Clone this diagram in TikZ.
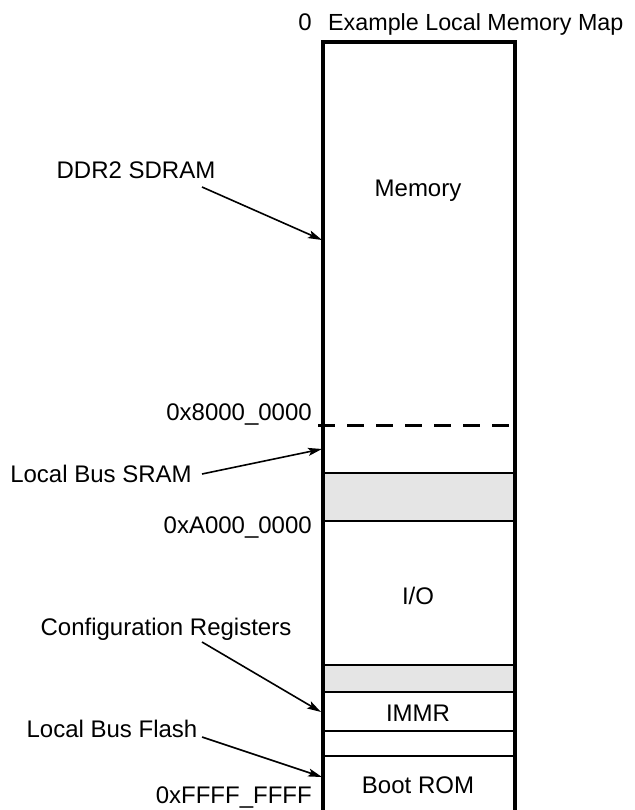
\documentclass[tikz,border=0pt]{standalone}
\usepackage{fontspec}
\setmainfont{Liberation Sans}
\usetikzlibrary{arrows.meta}
\tikzset{
  lbl/.style={inner sep=0pt, anchor=base, font=\fontsize{24}{24}\selectfont},
  ttl/.style={inner sep=0pt, anchor=base west, font=\fontsize{23.3}{23.3}\selectfont},
  sep/.style={line width=2.6pt},
  border/.style={line width=3.2pt},
  ptr/.style={line width=1.6pt, -{Stealth[length=14pt,width=8pt,inset=3pt]}},
}
\begin{document}
\begin{tikzpicture}[x=1pt,y=-1pt]
\useasboundingbox (0,0) rectangle (634,810);
\clip (0,0) rectangle (634,810);
% shaded bands
\fill[black!10] (323,473) rectangle (515,521);
\fill[black!10] (323,665) rectangle (515,692);
% separators
\draw[line width=3pt, dash pattern=on 17pt off 12pt] (318,425) -- (515,425);
\draw[sep] (323,473) -- (515,473);
\draw[sep] (323,521) -- (515,521);
\draw[sep] (323,665) -- (515,665);
\draw[sep] (323,692) -- (515,692);
\draw[sep] (323,731) -- (515,731);
\draw[sep] (323,756) -- (515,756);
% border
\draw[border] (323,812) -- (323,42) -- (515,42) -- (515,812);
% texts in map
\node[lbl] (zero) at (305,31) {0};
\node[ttl] (title) at (328,31) {Example Local Memory Map};
\node[lbl] (mem) at (418,197) {Memory};
\node[lbl] (io) at (418,604) {I/O};
\node[lbl] (immr) at (418,721) {IMMR};
\node[lbl] (boot) at (418,793) {Boot ROM};
% addresses
\node[lbl, anchor=base east] (a8) at (312,420) {0x8000\_0000};
\node[lbl, anchor=base east] (aA) at (312,533) {0xA000\_0000};
\node[lbl, anchor=base east] (aF) at (312,803) {0xFFFF\_FFFF};
% labels
\node[lbl] (ddr) at (136,179) {DDR2 SDRAM};
\node[lbl] (sram) at (101,482) {Local Bus SRAM};
\node[lbl] (cfg) at (166,635) {Configuration Registers};
\node[lbl] (flash) at (112,737) {Local Bus Flash};
% arrow endpoints
\coordinate (ddrS) at (202,187);
\coordinate (ddrE) at (322,240);
\coordinate (sramS) at (202,474);
\coordinate (sramE) at (322,449);
\coordinate (cfgS) at (202,642);
\coordinate (cfgE) at (321,712);
\coordinate (flashS) at (202,737);
\coordinate (flashE) at (322,777);
\draw[ptr] (ddrS) -- (ddrE);
\draw[ptr] (sramS) -- (sramE);
\draw[ptr] (cfgS) -- (cfgE);
\draw[ptr] (flashS) -- (flashE);
\end{tikzpicture}
\end{document}
